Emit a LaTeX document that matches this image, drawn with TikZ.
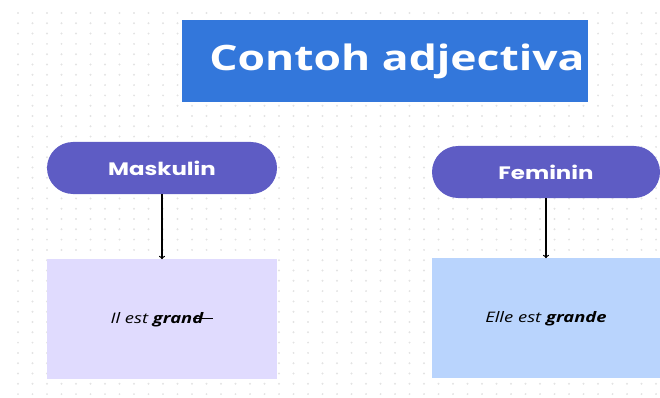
\documentclass[tikz,border=0pt]{standalone}
\usepackage{fontspec}
\setmainfont{Open Sans}
\newfontfamily\pillfont{Poppins}
\usetikzlibrary{positioning}
\definecolor{titleblue}{HTML}{3377DB}
\definecolor{pillviolet}{HTML}{5E5CC4}
\definecolor{lavender}{HTML}{E0DBFE}
\definecolor{paleblue}{HTML}{B9D4FD}
\definecolor{dotgray}{HTML}{E3E3E3}
\newcommand{\wide}[1]{\scalebox{1.27}[1]{#1}}

\begin{document}
\begin{tikzpicture}[x=1pt,y=-1pt,
  pill/.style={rectangle, rounded corners=26pt, fill=pillviolet, text=white, minimum width=230pt, minimum height=52pt, font=\pillfont\bfseries\fontsize{18}{21}\selectfont},
  card/.style={rectangle, minimum width=230pt, minimum height=120pt, font=\itshape\fontsize{14.5}{17}\selectfont}]
  \useasboundingbox (0,0) rectangle (660,398);
  % dotted background
  \foreach \i in {0,...,44}
    \foreach \j in {0,...,37}
      \fill[dotgray] (18+14.5*\i,13+10.3*\j) circle (1.1pt);

  \node[fill=titleblue, text=white, minimum width=406pt, minimum height=82pt, font=\bfseries\fontsize{35}{40}\selectfont] (title) at (385,61) {\hspace*{24pt}\wide{Contoh adjectiva}};

  \node[pill] (masc) at (162,168) {\wide{Maskulin}};
  \node[pill, minimum width=228pt] (fem) at (546,172) {\wide{Feminin}};
\node[card, fill=lavender, below=65pt of masc] (masc_ex) {\wide{Il est \textbf{grand}\kern-8pt\rule[0.27em]{16pt}{1pt}}};
\node[card, fill=paleblue, minimum width=228pt, below=60pt of fem] (fem_ex) {\wide{Elle est \textbf{grande}}};
\path[->, line width=1.2pt]
	(masc) edge (masc_ex)
	(fem) edge (fem_ex)
;
\end{tikzpicture}
\end{document}
